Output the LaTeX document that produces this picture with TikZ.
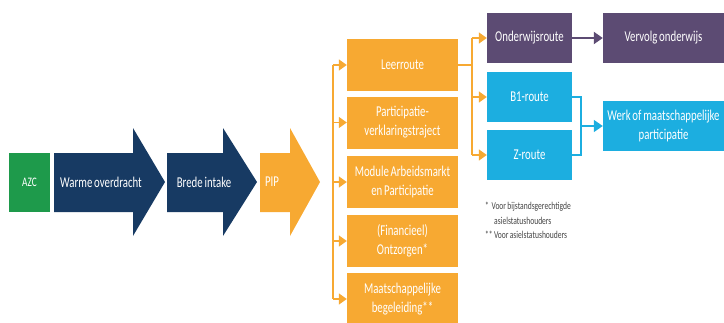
\documentclass[tikz,border=0pt]{standalone}
\usepackage{fontspec}
\setmainfont[FakeStretch=0.72, WordSpace=0.75]{Carlito}
\usetikzlibrary{arrows.meta}
\definecolor{azcgreen}{HTML}{1E9A4B}
\definecolor{navy}{HTML}{173A63}
\definecolor{pipor}{HTML}{F7A932}
\definecolor{routepurple}{HTML}{5C4B73}
\definecolor{routeblue}{HTML}{1CAEE0}
\definecolor{notegray}{HTML}{444444}

\tikzset{
  box/.style = {rectangle, inner sep = 2pt, text = white, align = center, font = \fontsize{15}{19}\selectfont},
  orangebox/.style = {box, fill = pipor, minimum width = 111pt, minimum height = 52pt},
  routebox/.style = {box, minimum width = 85pt, minimum height = 50pt},
  endbox/.style = {box, minimum width = 121pt, minimum height = 50pt},
  oline/.style = {draw = pipor, line width = 1.6pt},
  oarrow/.style = {oline, -{Triangle[width = 11pt, length = 8pt]}},
}

\newcommand{\chevron}[4]{% colour, left, neck, tip
  \fill [#1] (#2pt, -153pt) -- (#3pt, -153pt) -- (#3pt, -128pt) -- (#4pt, -182pt)
    -- (#3pt, -236pt) -- (#3pt, -212pt) -- (#2pt, -212pt) -- cycle;}

\begin{document}
\begin{tikzpicture}[x = 1pt, y = -1pt]
        \useasboundingbox (0, 0) rectangle (724, 322);

        % Big arrows
        \node [box, fill = azcgreen, minimum width = 41pt, minimum height = 59pt, font = \fontsize{13}{15}\selectfont] (azc) at (29.5, 182.5) {AZC};
        \chevron{navy}{54}{133}{165}
        \chevron{navy}{167}{223}{257}
        \chevron{pipor}{260}{290}{320}
        \node [box] (warm) at (101, 182) {Warme overdracht};
        \node [box] (brede) at (204, 182) {Brede intake};
        \node [box] (pip) at (272, 182) {PIP};

        % Orange column
        \node [orangebox] (leer) at (402.5, 65) {Leerroute};
        \node [orangebox] (part) at (402.5, 122.5) {Participatie-\\verklaringstraject};
        \node [orangebox] (module) at (402.5, 182) {Module Arbeidsmarkt\\en Participatie};
        \node [orangebox] (fin) at (402.5, 241) {(Financieel)\\Ontzorgen*};
        \node [orangebox] (maat) at (402.5, 299) {Maatschappelijke\\begeleiding**};

        % Routes
        \node [routebox, fill = routepurple] (ond) at (529.5, 38) {Onderwijsroute};
        \node [routebox, fill = routeblue] (bone) at (529.5, 97) {B1-route};
        \node [routebox, fill = routeblue] (zroute) at (529.5, 155) {Z-route};
        \node [endbox, fill = routepurple] (vervolg) at (663.5, 38) {Vervolg onderwijs};
        \node [endbox, fill = routeblue] (werk) at (663.5, 126) {Werk of maatschappelijke\\participatie};

        % Footnotes
        \node [anchor = north west, align = left, text = notegray, inner sep = 0pt,
               font = \fontsize{10.5}{14.5}\selectfont] (notes) at (485, 202)
              {*\ \ Voor bijstandsgerechtigde\\\hspace{9pt}asielstatushouders\\** Voor asielstatushouders};

        % Links left bracket
        \coordinate (busl) at (333, 0);
        \draw [oline] (busl |- leer.west) -- (busl |- maat.west);
        \foreach \n in {leer, part, module, fin, maat}
            \draw [oarrow] (busl |- \n.west) -- (\n.west);

        % Links right bracket
        \coordinate (busr) at (472, 0);
        \draw [oline] (leer.east) -- (busr |- leer.east);
        \draw [oline] (busr |- ond.west) -- (busr |- zroute.west);
        \foreach \n in {ond, bone, zroute}
            \draw [oarrow] (busr |- \n.west) -- (\n.west);

        % Links to end boxes
        \draw [routepurple, line width = 2pt, -{Triangle[width = 12pt, length = 9pt]}] (ond.east) -- (vervolg.west);
        \coordinate (busb) at (581, 0);
        \draw [routeblue, line width = 1.2pt] (bone.east) -| (busb |- zroute.east) -- (zroute.east);
        \draw [routeblue, line width = 1.6pt, -{Triangle[width = 12pt, length = 9pt]}] (busb |- werk.west) -- (werk.west);

\end{tikzpicture}
\end{document}
